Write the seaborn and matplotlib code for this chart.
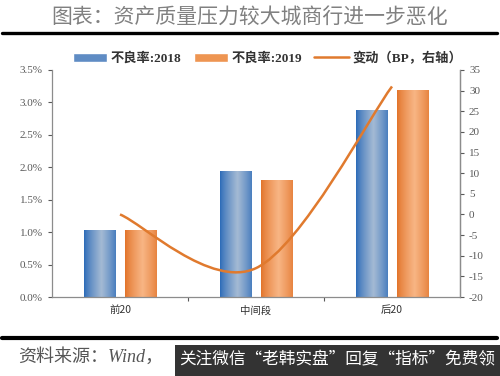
import numpy as np
import pandas as pd
import matplotlib
matplotlib.use('Agg')
import matplotlib.pyplot as plt
import seaborn as sns
from matplotlib.path import Path
from matplotlib.patches import PathPatch, Patch, Rectangle
from matplotlib.lines import Line2D
from matplotlib.colors import to_rgb
from matplotlib.ticker import FuncFormatter, MultipleLocator, FixedLocator

# 数据
categories = ['前20', '中间段', '后20']
npl_2018 = [1.02, 1.93, 2.87]   # 不良率 %
npl_2019 = [1.02, 1.80, 3.18]
change_bp = [0, -13, 31]        # 变动 BP（右轴）
years = ['不良率:2018', '不良率:2019']

df = pd.DataFrame({
    '分组': categories * 2,
    '年份': [years[0]] * 3 + [years[1]] * 3,
    '不良率': npl_2018 + npl_2019,
})

sns.set_theme(style='white')
plt.rcParams['font.family'] = ['Noto Sans CJK SC', 'DejaVu Sans']
plt.rcParams['axes.unicode_minus'] = False

serif = ['Liberation Serif', 'Noto Sans CJK SC']
gray = '#595959'
blue_edge, blue_mid = '#2C6BB8', '#A4BAD4'
orng_edge, orng_mid = '#E2742A', '#F8B584'
line_c = '#E07A2E'

fig = plt.figure(figsize=(5, 3.76), dpi=100)
ax = fig.add_axes([0.104, 0.21, 0.816, 0.604])

sns.barplot(data=df, x='分组', y='不良率', hue='年份', ax=ax,
            palette=[blue_edge, orng_edge], width=0.6, gap=0.23,
            legend=False, saturation=1)

# 渐变填充柱子
def grad(edge, mid):
    t = np.linspace(0, 1, 60)
    w = np.clip(1 - np.abs(t - 0.55) / 0.55, 0, 1) ** 0.8
    e, m = np.array(to_rgb(edge)), np.array(to_rgb(mid))
    return (e + (m - e) * w[:, None])[None, :, :]

for i, p in enumerate(ax.patches):
    x0, y0 = p.get_x(), p.get_y()
    wd, ht = p.get_width(), p.get_height()
    if ht <= 0:
        continue
    img = grad(blue_edge, blue_mid) if i < 3 else grad(orng_edge, orng_mid)
    ax.imshow(img, extent=[x0, x0 + wd, y0, y0 + ht], aspect='auto', zorder=2)
    p.set_visible(False)

ax.set_xlim(-0.5, 2.5)
ax.set_ylim(0, 3.5)
ax.yaxis.set_major_locator(MultipleLocator(0.5))
ax.yaxis.set_major_formatter(FuncFormatter(lambda v, _: f'{v:.1f}%'))
ax.set_xlabel('')
ax.set_ylabel('')
ax.xaxis.set_minor_locator(FixedLocator([0.5, 1.5]))
ax.tick_params(axis='x', which='major', length=0, labelsize=7.5, colors='#333333', pad=6)
ax.tick_params(axis='x', which='minor', length=3, color=gray, width=0.8, direction='out', bottom=True)
ax.tick_params(axis='y', length=3, color=gray, width=0.8, direction='out', left=True, labelsize=8, labelcolor=gray)
for lab in ax.get_yticklabels():
    lab.set_family(serif)
for s in ['left', 'bottom', 'right']:
    ax.spines[s].set_color('#8c8c8c')
    ax.spines[s].set_linewidth(0.9)
ax.spines['top'].set_visible(False)

# 右轴：平滑折线
ax2 = ax.twinx()
ax2.set_ylim(-20, 35)
ax2.yaxis.set_major_locator(MultipleLocator(5))
ax2.tick_params(axis='y', length=3, color=gray, width=0.8, direction='out', right=True, labelsize=8, labelcolor=gray)
for lab in ax2.get_yticklabels():
    lab.set_family(serif)
for s in ['left', 'bottom', 'top']:
    ax2.spines[s].set_visible(False)
ax2.spines['right'].set_color('#8c8c8c')
ax2.spines['right'].set_linewidth(0.9)

pts = np.column_stack([np.arange(len(change_bp)), change_bp]).astype(float)
verts, codes = [pts[0]], [Path.MOVETO]
n = len(pts)
for i in range(n - 1):
    pm = pts[max(i - 1, 0)]
    pp = pts[min(i + 2, n - 1)]
    c1 = pts[i] + (pts[i + 1] - pm) / 6
    c2 = pts[i + 1] - (pp - pts[i]) / 6
    verts += [c1, c2, pts[i + 1]]
    codes += [Path.CURVE4] * 3
ax2.add_patch(PathPatch(Path(verts, codes), facecolor='none', edgecolor=line_c, lw=1.8, zorder=3))

# 图例
handles = [Patch(facecolor='#5F8CC4'), Patch(facecolor='#EE9552'),
           Line2D([], [], color=line_c, lw=1.8)]
labels = years + ['变动（BP，右轴）']
fig.legend(handles, labels, loc='center', bbox_to_anchor=(0.535, 0.845), ncol=3,
           frameon=False, handlelength=2.6, handleheight=0.7, handletextpad=0.3,
           columnspacing=0.9, prop={'family': serif, 'size': 9.5, 'weight': 'bold'},
           labelcolor='#333333')

# 标题与框线
fig.text(0.5, 0.952, '图表：资产质量压力较大城商行进一步恶化', ha='center', va='center',
         fontsize=15, color='#808080', fontweight='normal')
fig.add_artist(Line2D([0.004, 0.994], [0.912, 0.912], color='black', lw=2.4, transform=fig.transFigure))
fig.add_artist(Line2D([0.004, 0.994], [0.101, 0.101], color='black', lw=3.0, transform=fig.transFigure))

fig.text(0.036, 0.05, '资料来源：Wind，', ha='left', va='center', fontsize=13,
         color='#555555', style='italic', family=['Liberation Serif', 'Noto Sans CJK SC'])
fig.add_artist(Rectangle((0.35, 0), 0.65, 0.083, transform=fig.transFigure,
                         facecolor='#333333', edgecolor='none'))
fig.text(0.675, 0.042, '关注微信“老韩实盘”回复“指标”免费领', ha='center', va='center',
         fontsize=12, color='white')

fig.savefig('out.png', dpi=100)
